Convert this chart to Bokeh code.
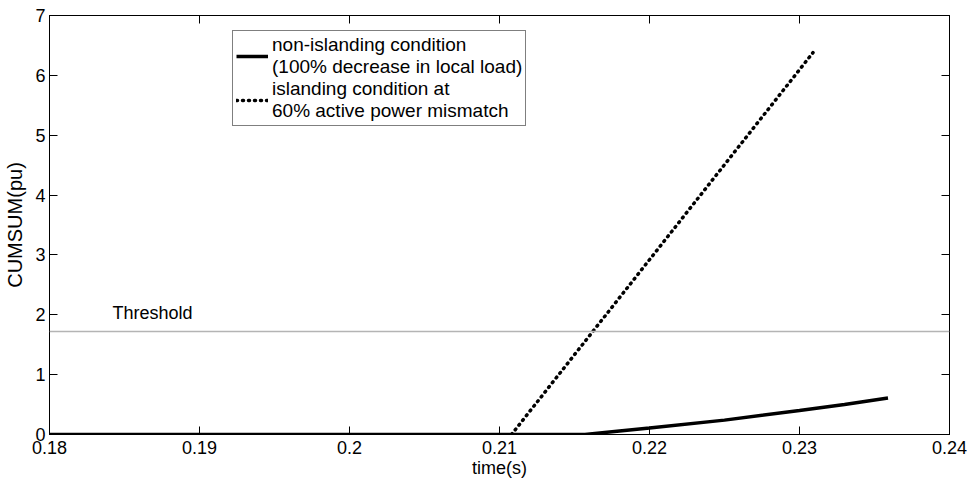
from bokeh.plotting import figure
from bokeh.models import LinearAxis, Legend, LegendItem, Span, Label, FixedTicker
from bokeh.embed import file_html
from bokeh.resources import INLINE

# ---- data ----
nonisl_t = [0.18, 0.2157, 0.218, 0.22, 0.225, 0.23, 0.233, 0.2359]
nonisl_v = [0.0, 0.0, 0.06, 0.11, 0.24, 0.40, 0.50, 0.61]
isl_t = [0.2108, 0.2309]
isl_v = [0.0, 6.38]
threshold = 1.72
x_ticks = [0.18, 0.19, 0.20, 0.21, 0.22, 0.23, 0.24]
x_tick_labels = ["0.18", "0.19", "0.2", "0.21", "0.22", "0.23", "0.24"]
y_ticks = [0, 1, 2, 3, 4, 5, 6, 7]
label_nonisl = "non-islanding condition\n(100% decrease in local load)"
label_isl = "islanding condition at\n60% active power mismatch"

FONT = "Liberation Sans"

p = figure(width=972, height=484, x_range=(0.18, 0.24), y_range=(0, 7),
           output_backend="svg", toolbar_location=None,
           min_border_left=49, min_border_right=23, min_border_top=15, min_border_bottom=50)
p.background_fill_color = "white"
p.border_fill_color = "white"
p.outline_line_color = "black"
p.outline_line_width = 1
p.xgrid.visible = False
p.ygrid.visible = False

for ax in (p.xaxis[0], p.yaxis[0]):
    ax.major_tick_in = 8
    ax.major_tick_out = 0
    ax.minor_tick_line_color = None
    ax.axis_line_color = "black"
    ax.major_tick_line_color = "black"
    ax.major_label_text_font = FONT
    ax.major_label_text_font_size = "18px"
    ax.major_label_text_color = "black"
    ax.axis_label_text_font = FONT
    ax.axis_label_text_font_size = "18px"
    ax.axis_label_text_font_style = "normal"
    ax.axis_label_text_color = "black"

p.xaxis[0].ticker = FixedTicker(ticks=x_ticks)
p.xaxis[0].major_label_overrides = {t: l for t, l in zip(x_ticks, x_tick_labels)}
p.xaxis[0].major_label_standoff = 6
p.xaxis[0].axis_label = "time(s)"
p.xaxis[0].axis_label_standoff = 1
p.yaxis[0].ticker = FixedTicker(ticks=y_ticks)
p.yaxis[0].major_label_standoff = 4
p.yaxis[0].axis_label = "CUMSUM(pu)"
p.yaxis[0].axis_label_text_font_size = "20px"
p.yaxis[0].axis_label_standoff = 6

# ticks on top and right (labels not drawn)
top = LinearAxis(ticker=FixedTicker(ticks=x_ticks), major_tick_in=8, major_tick_out=0,
                 minor_tick_line_color=None, major_label_text_font_size="1px",
                 major_label_text_color=None,
                 major_label_standoff=0, axis_line_color="black")
right = LinearAxis(ticker=FixedTicker(ticks=y_ticks), major_tick_in=8, major_tick_out=0,
                   minor_tick_line_color=None, major_label_text_font_size="1px",
                   major_label_text_color=None,
                   major_label_standoff=0, axis_line_color="black")
p.add_layout(top, "above")
p.add_layout(right, "right")

# threshold
p.add_layout(Span(location=threshold, dimension="width", line_color="#b4b4b4", line_width=1.5))
p.add_layout(Label(x=0.1842, y=1.87, text="Threshold", text_font=FONT,
                   text_font_size="18px", text_color="black"))

r1 = p.line(nonisl_t, nonisl_v, line_color="black", line_width=3.5)
r2 = p.line(isl_t, isl_v, line_color="black", line_width=3.5, line_dash="1 5",
            line_cap="round")

legend = Legend(items=[LegendItem(label=label_nonisl, renderers=[r1]),
                       LegendItem(label=label_isl, renderers=[r2])],
                location=(183, 308), padding=3, spacing=0, margin=0,
                glyph_width=32, label_standoff=4,
                label_text_font=FONT, label_text_font_size="19px",
                label_text_color="black",
                label_text_line_height=1.1,
                border_line_color="black", border_line_width=1,
                background_fill_alpha=1)
p.add_layout(legend, "center")

open("out.html", "w").write(file_html(p, INLINE))
